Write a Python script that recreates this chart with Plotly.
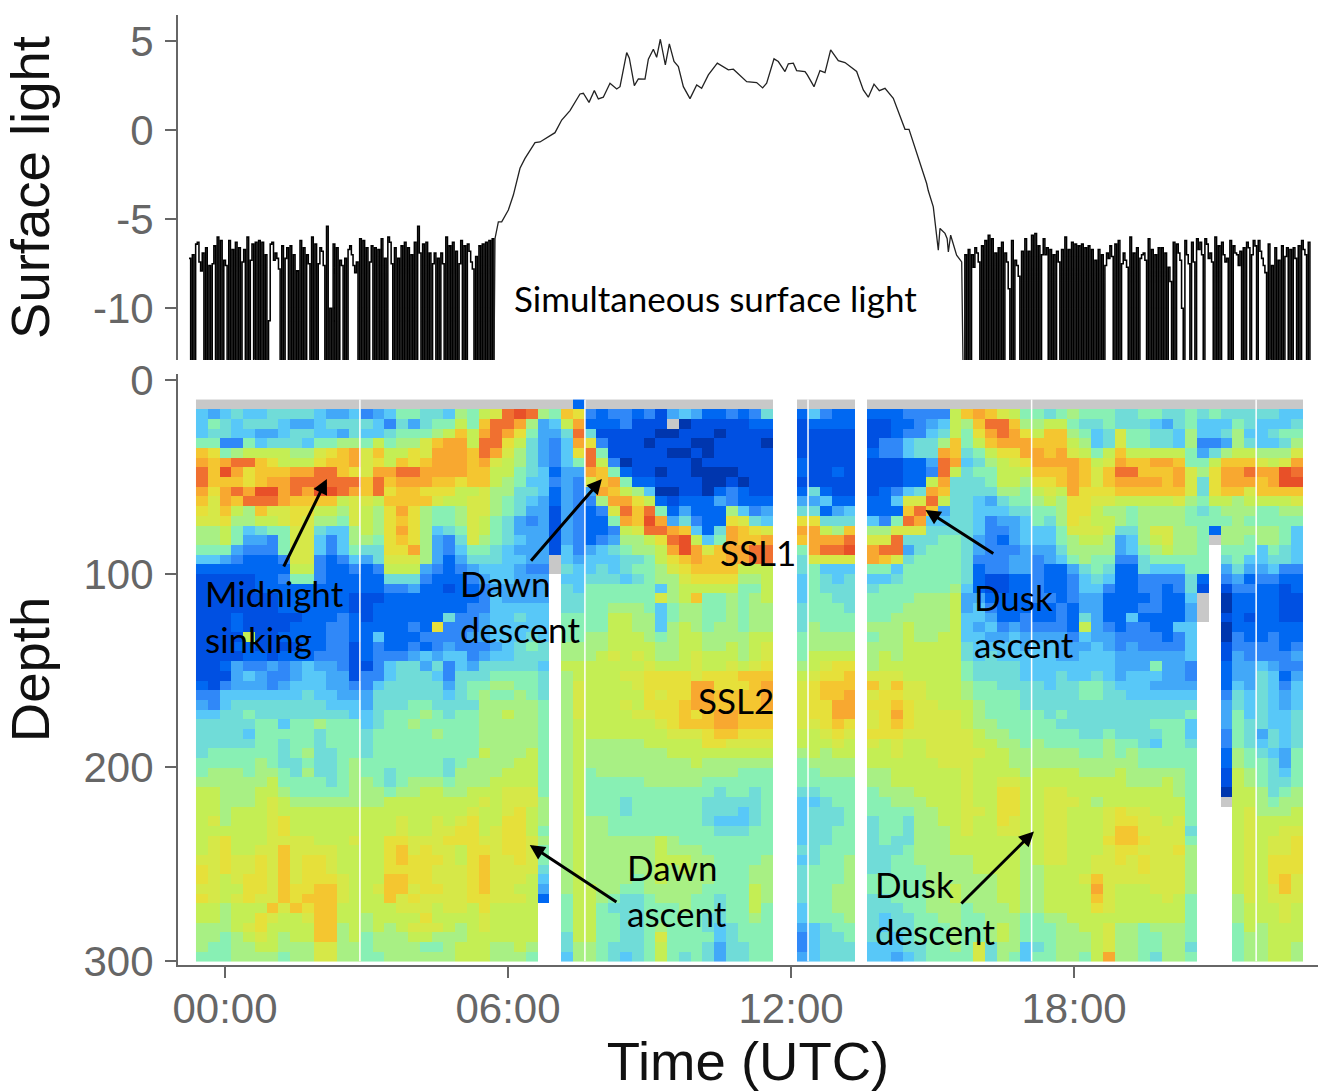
import numpy as np
import plotly.graph_objects as go

# ---------- data ----------
# Surface light: night samples before dawn, daylight curve, night samples after dusk
night_am = [-7.2,-14,-7.0,-14,-6.4,-6.3,-7.4,-7.9,-6.9,-14,-6.6,-14,-7.6,-14,-7.5,-6.5,-14,-6.0,-14,-6.2,-14,-7.3,-7.6,
 -14,-6.2,-14,-6.7,-14,-6.3,-14,-6.6,-14,-7.4,-6.7,-14,-6.0,-14,-7.3,-6.4,-14,-6.3,-14,-6.2,-14,-6.3,-14,-7.0,-14,-10.7,
 -6.4,-6.3,-7.3,-6.9,-7.2,-7.8,-14,-6.5,-14,-7.2,-6.6,-14,-6.5,-14,-7.0,-14,-7.9,-14,-6.2,-14,-6.6,-14,-7.0,-7.5,
 -14,-6.0,-14,-6.4,-14,-7.5,-6.6,-6.8,-7.6,-14,-5.4,-14,-10.0,-14,-6.4,-14,-6.6,-14,-7.3,-7.6,-14,-7.2,-14,
 -6.7,-6.5,-7.0,-7.6,-8.0,-7.4,-14,-6.1,-14,-6.2,-14,-6.6,-14,-7.4,-6.5,-14,-6.6,-14,-6.7,-14,-6.1,-14,-7.2,-14,-6.0,
 -6.3,-7.5,-14,-6.6,-14,-7.2,-14,-6.5,-14,-6.3,-14,-6.6,-14,-7.0,-14,-6.3,-14,-5.4,-6.9,-14,-6.4,-14,-6.3,-14,-6.9,-14,-7.5,
 -6.9,-14,-7.2,-14,-6.9,-7.5,-14,-6.0,-14,-6.5,-14,-6.3,-14,-6.8,-14,-7.5,-6.2,-14,-6.5,-14,-6.4,-6.8,-7.4,-7.8,
 -14,-7.1,-14,-6.5,-14,-6.4,-14,-6.3,-14,-6.2,-14,-6.1,-14]
day_hours = [5.724,5.795,5.866,6.007,6.113,6.254,6.36,6.572,6.678,6.996,7.138,7.314,7.526,7.597,7.717,7.83,7.915,8.02,8.162,8.304,8.374,
 8.516,8.572,8.678,8.763,8.904,8.975,9.081,9.151,9.229,9.335,9.42,9.519,9.611,9.717,9.858,10.0,10.105,10.247,10.437,10.671,10.777,
 10.953,11.06,11.271,11.398,11.483,11.639,11.73,11.872,11.943,12.049,12.119,12.296,12.345,12.487,12.614,12.72,12.84,13.002,13.144,
 13.391,13.532,13.638,13.759,13.871,13.992,14.168,14.416,14.501,14.875,14.91,15.016,15.122,15.158,15.264,15.31,15.335,15.384,15.51,15.618]
day_light = [-6.09,-5.15,-5.15,-4.49,-3.65,-2.15,-1.59,-0.71,-0.67,-0.15,0.56,1.09,2.02,2.06,1.55,2.21,1.74,1.84,2.62,2.30,2.43,
 4.34,4.03,2.49,2.87,2.85,3.97,4.53,4.08,5.09,3.65,4.83,3.84,3.56,2.43,1.76,2.53,2.34,3.09,3.75,3.37,3.41,
 2.96,2.71,2.66,2.36,2.62,3.99,3.84,3.28,3.71,3.75,3.33,3.28,3.09,2.43,3.33,3.22,4.49,3.89,3.78,
 3.28,2.25,1.84,2.57,2.21,2.34,1.78,0.04,0.04,-3.0,-3.41,-4.31,-6.74,-5.52,-5.8,-6.1,-6.84,-5.9,-7.02,-7.4]
night_pm = [-14,-7.0,-14,-6.7,-14,-7.0,-7.7,-6.6,-6.9,-7.4,-14,-6.5,-14,-6.2,-14,-5.9,-14,-6.1,-14,-6.9,-14,-6.6,-14,-6.3,-14,
 -6.9,-7.4,-8.9,-14,-6.2,-14,-7.3,-7.6,-8.2,-14,-6.8,-14,-6.1,-14,-6.8,-14,-5.9,-14,-5.8,-14,-6.5,-14,-7.0,-6.1,-7.0,-6.6,
 -14,-6.7,-14,-7.0,-14,-6.8,-7.4,-14,-6.7,-14,-6.0,-14,-6.7,-14,-6.3,-14,-6.4,-14,-6.5,-14,-6.4,-14,-6.6,-14,-6.5,-14,-6.7,-14,-7.3,-14,
 -6.7,-14,-7.0,-14,-7.6,-6.9,-7.2,-6.5,-7.1,-14,-6.4,-14,-6.2,-14,-7.5,-6.9,-7.3,-7.7,-14,-6.0,-14,-6.9,-14,-6.6,-14,-7.2,
 -7.0,-6.9,-7.3,-14,-6.1,-14,-6.7,-14,-7.0,-14,-6.6,-14,-6.6,-14,-6.9,-14,-7.7,-8.5,-14,-6.3,-14,-6.4,-6.9,-7.3,-10,
 -14,-6.2,-7.0,-7.5,-14,-6.3,-7.4,-14,-6.1,-6.7,-6.3,-7.0,-14,-6.1,-6.4,-7.2,-6.9,-7.4,-14,-6.0,-14,-6.5,-14,
 -6.3,-7.0,-7.4,-7.2,-14,-6.2,-14,-6.5,-6.9,-7.0,-7.6,-6.8,-14,-6.6,-14,-6.3,-6.6,-14,-7.0,-6.2,-6.5,-14,-6.2,
 -6.8,-7.2,-7.6,-8,-14,-6.4,-14,-7.6,-14,-6.6,-14,-7.3,-14,-6.5,-14,-7.1,-6.6,-14,-6.7,-14,-6.6,-7.2,-14,-6.5,-14,-6.2,-6.7,-7.0,-14,-6.3,-14]

# Backscatter level per 5 m depth bin (rows) and 15 min time bin (columns):
# 0..F = weakest..strongest, g = flagged (grey), . = no data
# columns grouped: 0-13|14-32|33-48|49-50|51-55|56|57-64|65-70|71-84|85-87|88-93
backscatter_rows = [
"gggggggggggggg|gggggggggggggggggg2|gggggggggggggggg|..|ggggg|.|gggggggg|gggggg|gggggggggggggg|ggg|gggggg",
"54565566665445|34577665879AEFE87CB|3233231454223236|..|25322|.|22233339|CDCA97|76787776677667|676|666655",
"57656665445666|6536467797CEED8459D|2223111g01111122|..|12222|.|11223459|8CEEC8|89976676665467|555|765556",
"56655445665546|5567778 9C9DEDB7446E|6111110011101111|..|11111|.|11233569|7BDEDB|9CC8756A776658|556|855677",
"77337566657788|79788ACDD9EEB96435D|B311101110011110|..|11111|.|1335668C|79CDDD|CCC9856A776658|334|865568",
"CB78999988ABCD|AC99BADDDCEDA86435B|E711111001011111|..|11111|.|233566DC|679BBD|DCDA979C999997|468|99888A",
"DCDEECB999BCCD|AB9CBCDDDCDA9864357|E930111110111111|..|21111|.|111224ED|5689AB|DDDDC9ADCCDDC7|79C|CCA9AD",
"ECFDBCCCDDEECB|ADDEEDDDDCC99765244|DC72110110000111|..|21121|.|111223E9|677999|CCCDCACEECCCDA|8BD|DEDDFE",
"ECCCBCDDEEEEEE|CECDDDCCBCC98755343|ACD7221111001011|..|11111|.|111229D6|667998|BBCDCACDDDDCDA|6BD|DDCDFF",
"DBDEDFFDEDFFED|CEBCCBBB99A88665243|4DC9850011023211|..|26211|.|12356DC6|666887|9A9DBBBCCCCCCA|6BC|CACCCC",
"CADCEEEDCCCC9A|A9CCCCA99AA87654243|38DDB92122243222|..|44522|.|225AAE96|654677|898BBAA99999A8|799|89999A",
"BAC98CAABB998A|98BDB8778AA87644143|23AECE7242228534|..|66245|.|222CEC46|655566|778BB988788887|678|887788",
"AAB8899ABA887A|98BCB8778A976434143|227DCFD46322BA65|..|BB666|.|537ED556|653445|768BA998788887|777|877777",
"88975677AA6558|98BDB8567A976444143|2239AEEDC526DCBA|..|DD98C|.|88AAA666|653345|557AAA9668AA88|728|888875",
"88974437AA5358|87BCB8436A876544143|234889BEF957DCCD|..|CDDDE|.|AAE66677|643245|55789984589A88|7g8|878875",
"77743337AA5357|66BBD84357765444153|4567889DFDACDDEE|..|7DEEF|.|DEE46777|643334|44688884578988|7.7|775765",
"55432223AA3235|46AAA84246665544g54|5556679BCDCCDDEE|..|6AAAA|.|DCA67777|633344|34578773367777|7.6|755665",
"2222222299 3223|23999432345554 33g65|5656778ABCCCC999|..|67555|.|77577777|623344|32246762265557|7.4|644533",
"11111223773222|2266632223455444.55|66656788ABBBB889|..|57656|.|55677777|621122|32235652233336|2.3|423322",
"11111222222222|2233422122344444.65|7777775899999779|..|57666|.|67777778|521122|32235532233236|1.1|332212",
"11111112222221|1122222222354444.66|777777A89C778789|..|57766|.|77778889|442222|33234422223225|g.0|222211",
"11111112222221|1222222223355555.66|7788875788778788|..|67776|.|77788889|453222|22324422233224|g.0|222211",
"11121111122232|1222222633455655.77|7799885788778788|..|67777|.|77888889|554223|22326422522224|g.1|212211",
"11121111222332|222232B333455555.77|7799885898788788|..|68777|.|88898889|545343|33329432332255|..0|222222",
"11119112222332|2522233334455565.77|8899987899888899|..|78888|.|78898899|554454|44435443333235|..0|322322",
"11122111122331|2322323433345676.88|889999889988989A|..|78888|.|88899999|655554|55444543433335|..1|333323",
"11112212223331|2333454553455666.88|89A9A9889A99989A|..|79999|.|89899999|656555|55445554444445|..1|433334",
"11243343454431|1356646354666665.99|99999A999A99A9AB|..|89ABB|.|89999999|766665|55555554447443|..2|445433",
"11145433455441|3356665366677776.89|999AABBBBABBBCCC|..|9ABBC|.|AAA99999|766665|55655654555443|..2|446524",
"21344434555443|3566666467788776.8A|9999ABBBBDDBBBCD|..|ABCCC|.|CACAA999|877666|65667765554444|..2|546535",
"33555555565544|4666666567877876.8A|99999BABBDDCCCCD|..|ABCCD|.|ABBAA999|877776|66667766555555|..3|656545",
"43566666666555|4666776666888887.8A|999A9BBBCDDCCCCD|..|ABBDD|.|BBCBAA99|987776|66666666666666|..4|656545",
"55667666666665|5677787677889887.8A|9999AABBCBCDDCCC|..|ABBDD|.|ABDBAAAA|987777|76766666666667|..4|756556",
"66666775778777|5677877777888887.89|999999ABCCCDDCCC|..|AABCB|.|ABCBAAAA|988777|77666666667775|..4|766556",
"66665777776777|6777778777888887.89|9999999AAABCCBBB|..|99ABA|.|BBBAAAAA|A98877|77776676666775|..3|764656",
"66666776776777|6777777777888887.89|8888899999BBAAAA|..|999A9|.|A9A99AAA|A99887|87777787765776|..3|765656",
"67777776786677|6777777777988897.89|8888888999999999|..|89899|.|99A99AAA|AA9988|88887787877777|..2|876547",
"77777876676678|7777777678888997.89|8888888889888888|..|78888|.|999999AA|A99988|88888888877777|..2|877647",
"78887887686678|7767777688889997.89|7888888888888777|..|77888|.|88999999|A99998|99998889888887|..1|987657",
"88888897777678|8767888788899997.89|7777788888777777|..|77777|.|88999999|A99AA9|99999999888987|..1|987667",
"99888998777778|887889988999AAA7.89|7777777777767767|..|66777|.|78889999|A99BB9|9AA99999999987|..0|998678",
"998889A9888888|8899999999A9AAA8.89|7776777777666667|..|55677|.|77888999|A99BB9|9AAA9899999997|..g|998788",
"9989 99A9999999|999999999A99AB98.89|7776777777666567|..|56667|.|77778899|AA9BB9|9AA999ABAA9997|...|9A8889",
"9A8999AB999999|999A99A9AB99BB98.89|8877777777655567|..|56667|.|67768899|A99BA9|9AA999ABBAA9A7|...|9A9999",
"999999AB999999|999A99AABB9ABB97.89|8877777777766677|..|56677|.|67768889|A99AA9|9AA999ACCAAAA6|...|9A99AA",
"9AB999AAAA999A|99BBAAABBBAABBA8.89|8888889877777777|..|56677|.|67668889|999999|9AA999BCCBAAA7|...|9A9AAB",
"9AB99AACAAAA99|99BCABAA9BBABBA7.89|8888889888777777|..|66777|.|66678889|999998|9AA999ABBAAAB8|...|9A9AAB",
"AABAABACABBA99|99BCBBBA9BCAABA7.89|8888889998877778|..|56778|.|66778888|899998|9AA99AABABAAA8|...|9A9BBB",
"BABAABACABBA99|99BBBBAAABCAAAA6.89|8888889898877788|..|67778|.|66777888|899998|89999AAAABAAA8|...|9A9BBB",
"BA9ABBACABBBA9|99CCBBAAABCAAA95.89|8888789888877788|..|67778|.|77777888|888998|8999ACAAAAAAA8|...|9A9BCA",
"AA99BBACBBCCA9|9ACCABBAABCAA994.89|9887788888777798|..|67788|.|77777889|888998|89999DA999AAA8|...|9A9ACA",
"BA9ABAACBCCCA9|99CABAAAABBAAA92.79|9876678887767798|..|67788|.|66777889|888998|89999CA9999A97|...|8A9AAA",
"99899 9CACBCC99|999AAA9AA9B9999..79|9766677787767797|..|57788|.|66677888|788898|89999BA9999997|...|8999A9",
"99899BA99ACC99|89999B9999A9999..79|9776677777667787|..|57778|.|65667788|778887|78899999999997|...|8999A9",
"8889AB9999CC89|8989AAA989A9999..79|9776678777656777|..|45677|.|65667778|778987|778899A8878887|...|798999",
"88789A9899CC89|788899888999999..69|977667A777756777|..|35667|.|66567778|778987|778889A8877887|...|788999",
"87788998 88AA88|788887789998898..68|8766679777646677|..|35666|.|55566778|7A6885|678889A8877886|...|788998",
"7778888788AA88|778888889998887..58|8765679767646677|..|45666|.|55456777|7A6875|778879D8876887|...|788998",
]
column_groups = [14, 19, 16, 2, 5, 1, 8, 6, 14, 3, 6]
level_colours = ["#0036AE","#0050E2","#0068F2","#3088F8","#42A8F8","#58C8F8","#70DCD8","#88F0B4",
                 "#A8F084","#C4EE54","#D6E848","#E6E03A","#F4C630","#F8A830","#F07030","#E85028"]
flag_colour = "#C8C8C8"
depth_ticks = [0, 100, 200, 300]
light_ticks = [5, 0, -5, -10]
light_labels = ["5", "0", "-5", "-10"]
hour_ticks = [0, 6, 12, 18]
hour_labels = ["00:00", "06:00", "12:00", "18:00"]
thin_gap_hours = [2.86, 7.63, 12.36, 17.1, 21.86]
arrows = [  # tail hour, tail depth, head hour, head depth
    (1.23, 97, 2.16, 51), (6.46, 94, 7.99, 51), (16.32, 90, 14.85, 67),
    (8.33, 270, 6.46, 240), (15.58, 271, 17.15, 233)]
labels = [  # text, hour, depth
    ("Midnight", -0.46, 109.7), ("sinking", -0.46, 133.7), ("Dawn", 4.95, 104.7), ("descent", 4.95, 128.7),
    ("Dawn", 8.48, 251.2), ("ascent", 8.48, 275.2), ("Dusk", 15.84, 111.7), ("ascent", 15.84, 136.2),
    ("Dusk", 13.74, 260.2), ("descent", 13.74, 284.2), ("SSL1", 10.46, 88.7), ("SSL2", 9.99, 165.2)]
panel_label = ("Simultaneous surface light", 6.09, -9.45)

# ---------- build ----------
def level(ch):
    if ch == ".":
        return np.nan
    if ch == "g":
        return 16
    return int(ch, 16)

def fit_row(row):
    parts = row.replace(" ", "").split("|")
    return "".join((p[:w]).ljust(w, p[-1]) for p, w in zip(parts, column_groups))

z = [[level(c) for c in fit_row(r)] for r in backscatter_rows]
start_hour, bin_hours = -0.615, 0.2497
hours = [start_hour + bin_hours * (i + 0.5) for i in range(len(z[0]))]
depths = [12.5 + 5 * i for i in range(len(z))]

scale = [[i / 16, c] for i, c in enumerate(level_colours)]
scale += [[15.5 / 16, level_colours[-1]], [15.5 / 16, flag_colour], [1, flag_colour]]

t_am = list(np.linspace(-0.763, 5.70, len(night_am)))
t_pm = list(np.linspace(15.65, 23.0, len(night_pm)))

W, H = 1318, 1092
fig = go.Figure()
for tx, vals in ((t_am, night_am), (t_pm, night_pm)):
    fig.add_trace(go.Scatter(x=tx, y=vals, mode="lines", line=dict(color="black", width=1.55, shape="hv"),
                             xaxis="x", yaxis="y", showlegend=False, hoverinfo="skip"))
fig.add_trace(go.Scatter(x=[t_am[-1]] + day_hours + [t_pm[0]], y=[night_am[-1]] + day_light + [night_pm[0]], mode="lines",
                         line=dict(color="#222222", width=1.3), xaxis="x", yaxis="y", showlegend=False, hoverinfo="skip"))
fig.add_trace(go.Heatmap(x=hours, y=depths, z=z, zmin=0, zmax=16, colorscale=scale, showscale=False,
                         xaxis="x2", yaxis="y2", hoverongaps=False))

x_range = [(178 - 225) / 47.17, (1318 - 225) / 47.17]
axis_grey = "#666666"
tick_font = dict(family="Liberation Sans", size=42, color=axis_grey)
title_font = dict(family="Liberation Sans", size=54.5, color="#111111")
common_y = dict(showgrid=False, zeroline=False, showline=True, linecolor=axis_grey, linewidth=2,
                ticks="outside", ticklen=11, tickwidth=2, tickcolor=axis_grey, tickfont=tick_font,
                automargin=False, ticklabelstandoff=3)

fig.update_layout(
    width=W, height=H, autosize=False, margin=dict(l=0, r=0, t=0, b=0),
    paper_bgcolor="white", plot_bgcolor="white",
    xaxis=dict(domain=[178 / W, 1], range=x_range, visible=False, anchor="y"),
    yaxis=dict(domain=[1 - 360 / H, 1 - 15 / H], range=[-12.9, 6.45], tickvals=light_ticks, ticktext=light_labels,
               anchor="x", title=dict(text="Surface light", font=title_font, standoff=26), **common_y),
    xaxis2=dict(domain=[178 / W, 1], range=x_range, anchor="y2", tickvals=hour_ticks, ticktext=hour_labels,
                showgrid=False, zeroline=False, showline=True, linecolor=axis_grey, linewidth=2,
                ticks="outside", ticklen=11, tickwidth=2, tickcolor=axis_grey, tickfont=tick_font, automargin=False,
                ticklabelstandoff=-5, title=dict(text="Time (UTC)", font=title_font, standoff=26)),
    yaxis2=dict(domain=[1 - 965 / H, 1 - 374 / H], range=[302, -3.2], tickvals=depth_ticks, anchor="x2",
                title=dict(text="Depth", font=title_font, standoff=18), **common_y),
)

for h in thin_gap_hours:
    fig.add_shape(type="line", x0=h, x1=h, y0=10, y1=300, xref="x2", yref="y2",
                  line=dict(color="white", width=1.5), layer="above")

note_font = dict(family="Lato", size=35, color="black")
for tx, ty, hx, hy in arrows:
    fig.add_annotation(x=hx, y=hy, ax=tx, ay=ty, xref="x2", yref="y2", axref="x2", ayref="y2", text="",
                       showarrow=True, arrowhead=2, arrowsize=1.0, arrowwidth=3, arrowcolor="black")
for text, hx, dy in labels:
    fig.add_annotation(x=hx, y=dy, xref="x2", yref="y2", text=text, showarrow=False, xanchor="left",
                       yanchor="middle", font=note_font)
fig.add_annotation(x=panel_label[1], y=panel_label[2], xref="x", yref="y", text=panel_label[0], showarrow=False,
                   xanchor="left", yanchor="middle", font=note_font)

fig.write_html("out.html", config={"displayModeBar": False},
               post_script="document.body.style.margin='0';document.body.style.overflow='hidden';")
